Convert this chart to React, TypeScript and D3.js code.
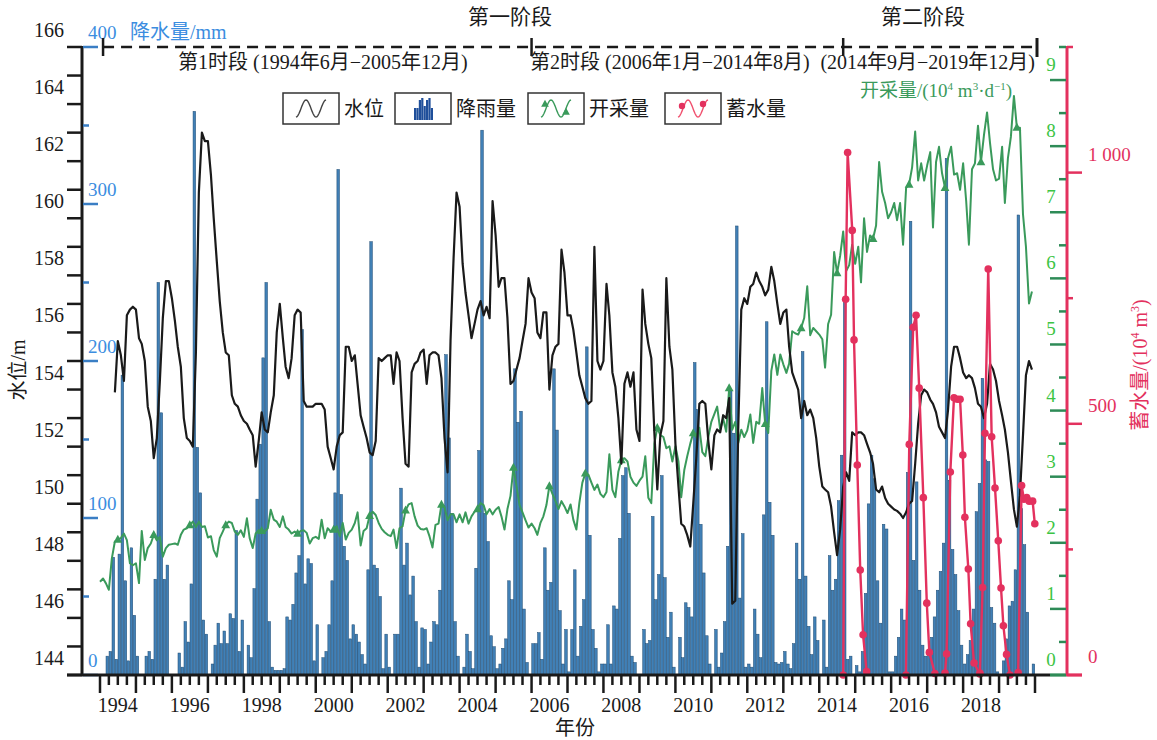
import React from 'react';
import * as d3 from 'd3';

const years = d3.range(1994, 2020);

// 降雨量 (mm), one row per year, Jan..Dec
const rain: number[][] = [
  [0, 0, 12, 15, 75, 10, 77, 191, 60, 9, 81, 38],
  [12, 0, 0, 12, 15, 10, 61, 250, 167, 61, 70, 0],
  [0, 0, 14, 5, 34, 21, 58, 359, 145, 116, 35, 26],
  [0, 7, 19, 33, 20, 28, 20, 39, 36, 92, 15, 35],
  [0, 19, 11, 55, 112, 147, 202, 250, 34, 5, 3, 3],
  [3, 4, 37, 35, 45, 65, 76, 220, 58, 74, 71, 9],
  [32, 0, 11, 15, 32, 60, 116, 322, 115, 82, 73, 23],
  [32, 26, 21, 13, 7, 67, 276, 70, 68, 50, 4, 26],
  [5, 0, 26, 26, 119, 70, 84, 51, 63, 34, 5, 30],
  [29, 7, 21, 34, 32, 54, 108, 204, 151, 103, 34, 12],
  [0, 5, 26, 15, 4, 68, 143, 347, 103, 85, 25, 18],
  [4, 7, 17, 23, 60, 48, 195, 161, 168, 42, 8, 0],
  [20, 20, 27, 10, 81, 54, 59, 195, 156, 41, 7, 29],
  [2, 29, 67, 12, 31, 48, 209, 89, 29, 17, 2, 7],
  [7, 32, 7, 44, 42, 87, 127, 132, 103, 12, 8, 0],
  [0, 29, 20, 22, 101, 48, 64, 127, 62, 24, 40, 5],
  [0, 24, 11, 46, 43, 37, 199, 169, 96, 65, 25, 7],
  [0, 29, 5, 14, 34, 82, 181, 154, 286, 49, 90, 5],
  [7, 5, 42, 26, 11, 102, 225, 110, 89, 8, 7, 8],
  [15, 7, 4, 20, 84, 61, 206, 63, 31, 13, 37, 22],
  [0, 35, 5, 76, 54, 61, 111, 140, 240, 10, 12, 0],
  [6, 2, 15, 52, 109, 140, 125, 60, 33, 96, 93, 2],
  [2, 12, 24, 42, 35, 129, 289, 73, 123, 54, 19, 12],
  [16, 24, 37, 54, 66, 84, 329, 124, 80, 64, 41, 19],
  [7, 13, 22, 42, 104, 122, 189, 137, 136, 43, 33, 2],
  [0, 9, 23, 44, 47, 67, 293, 106, 83, 40, 0, 7],
];

// 水位 (m)
const level: (number | null)[][] = [
  [null, null, null, null, null, 153.9, 155.7, 155.2, 154.3, 156.6, 156.8, 156.9],
  [156.8, 155.8, 155.6, 155.0, 153.4, 152.9, 151.6, 152.3, 154.3, 156.5, 157.8, 157.8],
  [157.2, 156.4, 155.5, 154.8, 153.0, 152.3, 152.2, 152.0, 155.3, 160.9, 163.0, 162.7],
  [162.7, 161.5, 160.0, 158.5, 157.1, 156.0, 155.3, 155.2, 153.8, 153.5, 153.4, 153.1],
  [152.9, 152.8, 152.6, 152.4, 151.3, 152.2, 153.2, 152.6, 152.5, 153.2, 153.8, 156.0],
  [157.0, 155.8, 154.8, 154.4, 155.1, 156.6, 156.8, 156.7, 153.6, 153.4, 153.4, 153.4],
  [153.5, 153.5, 153.5, 153.3, 152.0, 151.6, 151.2, 152.0, 152.4, 152.5, 155.5, 155.5],
  [155.0, 155.2, 154.2, 153.1, 152.7, 152.3, 151.8, 151.7, 152.2, 155.1, 155.0, 155.1],
  [155.2, 155.2, 154.2, 155.3, 155.0, 153.0, 151.4, 151.3, 154.6, 154.9, 155.0, 155.3],
  [155.4, 154.2, 155.2, 155.3, 155.3, 155.2, 154.4, 152.3, 151.1, 155.7, 158.6, 160.9],
  [160.4, 158.4, 157.4, 156.6, 155.8, 156.3, 156.8, 157.1, 156.6, 156.9, 156.5, 160.6],
  [159.4, 157.6, 157.9, 157.9, 156.5, 154.2, 154.3, 154.7, 155.1, 155.7, 156.3, 157.9],
  [157.4, 157.2, 156.0, 155.8, 156.7, 156.7, 154.0, 155.2, 155.5, 155.6, 158.9, 158.1],
  [156.6, 156.6, 156.1, 155.3, 154.5, 154.1, 153.7, 153.5, 153.6, 159.0, 155.0, 154.7],
  [155.0, 157.7, 156.6, 154.6, 154.1, 153.0, 151.4, 154.2, 154.6, 154.1, 154.6, 152.6],
  [152.2, 157.5, 156.3, 155.6, 155.1, 152.5, 150.5, 152.4, 152.9, 157.9, 155.5, 154.7],
  [152.1, 150.6, 149.3, 149.2, 148.9, 148.5, 150.0, 151.6, 153.5, 153.6, 153.5, 152.2],
  [151.2, 152.4, 152.6, 152.5, 153.1, 153.0, 153.7, 146.5, 146.6, 152.6, 156.8, 157.2],
  [157.0, 157.6, 157.7, 158.1, 157.8, 157.6, 157.3, 157.5, 158.3, 157.8, 157.0, 156.3],
  [156.7, 156.8, 155.5, 154.6, 154.3, 154.0, 153.0, 153.6, 153.1, 153.3, 153.0, 152.3],
  [151.3, 150.6, 150.5, 150.4, 149.9, 149.0, 148.2, 149.1, 150.6, 151.1, 150.8, 152.5],
  [152.4, 152.5, 152.5, 152.4, 152.1, 151.8, 151.4, 150.5, 150.4, 150.6, 150.2, 150.0],
  [149.9, 149.8, 149.75, 149.65, 149.5, 149.7, 150.0, 150.1, 151.4, 152.8, 153.8, 154.0],
  [153.9, 153.65, 153.5, 153.2, 152.7, 152.5, 152.3, 153.3, 154.8, 155.5, 155.5, 155.1],
  [154.6, 154.4, 154.5, 154.4, 154.05, 153.5, 153.4, 153.0, 153.5, 154.9, 154.7, 154.3],
  [153.6, 153.1, 152.6, 151.8, 150.8, 149.8, 149.2, 150.3, 152.4, 154.5, 155.0, 154.7],
];

// 开采量 (10^4 m3/d)
const pump: number[][] = [
  [1.41, 1.46, 1.39, 1.29, 1.76, 2.02, 2.05, 2.07, 2.14, 2.04, 1.69, 1.66],
  [1.69, 1.39, 2.18, 1.74, 1.92, 1.99, 2.12, 2.04, 2.09, 1.79, 1.92, 1.97],
  [1.98, 1.99, 1.97, 2.12, 2.2, 2.22, 2.27, 2.32, 2.24, 2.32, 2.24, 2.25],
  [2.08, 2.1, 1.89, 1.79, 2.07, 2.17, 2.27, 2.32, 2.3, 2.17, 2.12, 2.19],
  [2.09, 2.37, 2.07, 1.92, 2.14, 2.19, 2.18, 2.17, 2.22, 2.5, 2.35, 2.32],
  [2.24, 2.4, 2.24, 2.2, 2.14, 2.17, 2.14, 2.18, 2.19, 2.15, 1.99, 2.07],
  [2.09, 2.06, 2.35, 2.07, 2.22, 2.17, 2.2, 2.25, 2.1, 2.3, 2.05, 2.15],
  [2.2, 2.3, 2.46, 1.96, 2.18, 2.22, 2.41, 2.47, 2.42, 2.3, 2.21, 2.16],
  [2.12, 2.1, 2.2, 1.92, 2.22, 2.25, 2.49, 2.58, 2.6, 2.4, 2.26, 2.21],
  [2.2, 2.22, 2.1, 1.93, 2.27, 2.29, 2.58, 2.54, 2.34, 2.43, 2.43, 2.31],
  [2.43, 2.31, 2.46, 2.29, 2.4, 2.47, 2.51, 2.6, 2.57, 2.43, 2.51, 2.43],
  [2.5, 2.54, 2.4, 2.2, 2.51, 2.71, 3.14, 2.86, 2.57, 2.46, 2.34, 2.23],
  [2.29, 2.22, 2.12, 2.3, 2.4, 2.57, 2.86, 2.74, 2.63, 2.51, 2.63, 2.55],
  [2.45, 2.58, 2.35, 2.2, 2.6, 2.91, 3.05, 3.03, 2.91, 2.8, 2.88, 2.74],
  [2.69, 2.77, 3.34, 2.8, 2.69, 3.08, 3.25, 3.28, 3.23, 3.0, 2.91, 2.86],
  [2.94, 3.0, 3.31, 2.68, 2.6, 3.5, 3.74, 3.63, 3.6, 3.43, 3.46, 3.23],
  [3.46, 3.23, 2.69, 3.1, 3.31, 3.5, 3.66, 3.6, 3.74, 3.37, 3.31, 3.6],
  [3.83, 3.95, 4.06, 3.71, 3.88, 3.68, 4.34, 3.71, 3.83, 3.51, 3.71, 3.6],
  [3.7, 3.94, 3.51, 3.83, 3.8, 4.34, 3.8, 3.66, 4.6, 4.85, 4.54, 4.85],
  [4.7, 4.57, 4.71, 5.2, 5.17, 5.15, 5.25, 5.4, 5.88, 5.14, 5.25, 5.2],
  [5.15, 5.08, 4.65, 5.31, 5.45, 6.4, 6.08, 6.34, 6.71, 6.11, 6.2, 6.51],
  [6.22, 6.48, 5.94, 6.91, 6.4, 6.65, 6.6, 6.8, 7.76, 7.31, 7.14, 6.91],
  [7.0, 7.14, 6.88, 7.14, 6.51, 7.37, 7.42, 7.68, 8.22, 7.48, 7.74, 7.48],
  [7.71, 7.91, 6.77, 7.76, 7.99, 7.59, 7.37, 7.82, 7.99, 7.57, 7.59, 7.34],
  [7.74, 7.17, 6.51, 7.65, 7.74, 8.31, 7.76, 8.17, 8.51, 8.05, 7.65, 7.48],
  [7.51, 7.99, 7.14, 7.82, 8.14, 8.76, 8.28, 8.28, 6.97, 6.48, 5.62, 5.8],
];

// 蓄水量 (10^4 m3), one list per recharge season
const storeDates: string[][] = [
  ['2014-09-01', '2014-09-26', '2014-10-16', '2014-12-02', '2014-12-20', '2015-01-22', '2015-02-21', '2015-03-22', '2015-04-27'],
  ['2016-05-30', '2016-07-03', '2016-08-12', '2016-09-10', '2016-10-12', '2016-11-23', '2016-12-28', '2017-01-23', '2017-03-20'],
  ['2017-07-01', '2017-07-17', '2017-08-24', '2017-09-30', '2017-11-03', '2017-12-01', '2017-12-29', '2018-01-19', '2018-02-23', '2018-03-18', '2018-04-22', '2018-06-20'],
  ['2018-06-20', '2018-07-18', '2018-08-11', '2018-09-13', '2018-10-18', '2018-11-21', '2018-12-24', '2019-01-21', '2019-02-14', '2019-03-18', '2019-04-22'],
  ['2019-07-14', '2019-08-18', '2019-09-11', '2019-10-09', '2019-11-03', '2019-12-08', '2019-12-30'],
];
const storeValues: number[][] = [
  [0, 748, 1040, 885, 667, 418, 209, 80, 7],
  [0, 459, 692, 716, 571, 353, 143, 45, 3],
  [4, 42, 404, 552, 549, 549, 438, 314, 211, 102, 24, 2],
  [4, 174, 481, 808, 474, 372, 267, 173, 98, 41, 0],
  [5, 377, 350, 353, 346, 346, 301],
];

const levelTicks = d3.range(144, 167);
const rainTicks = d3.range(0, 401, 50);
const pumpTicks = d3.range(0, 9.51, 0.5);
const storeTicks = [0, 250, 500, 750, 1000, 1250];
const yearLabels = years.filter((y) => y % 2 === 0);

const BLACK = '#1a1a1a';
const BAR = '#4180b6';
const BAR_EDGE = '#1f4b72';
const BLUE_TXT = '#3b8de0';
const GREEN = '#3a9a5b';
const GREEN_TXT = '#3cc444';
const GREEN_TICK = '#2e8b57';
const PINK = '#e3315e';
const FONT = "'Liberation Serif', 'DejaVu Serif', 'Noto Sans CJK SC', serif";

const parse = d3.timeParse('%Y-%m-%d');

export default function App() {
  const x = d3.scaleTime().domain([new Date(1994, 0, 1), new Date(2020, 0, 1)]).range([100, 1035]);
  const yLevel = d3.scaleLinear().domain([144, 166]).range([675, 47]);
  const yRain = d3.scaleLinear().domain([0, 400]).range([675, 47]);
  const yPump = d3.scaleLinear().domain([0, 9.5]).range([675, 47]);
  const yStore = d3.scaleLinear().domain([0, 1250]).range([675, 47]);

  const monthly = <T,>(rows: T[][]) =>
    rows.flatMap((row, i) => row.map((v, m) => ({ date: new Date(years[i], m, 1), v, m })));

  const rainPts = monthly(rain);
  const levelPts = monthly(level);
  const pumpPts = monthly(pump);

  const levelLine = d3
    .line<{ date: Date; v: number | null }>()
    .defined((d) => d.v != null)
    .x((d) => x(d.date))
    .y((d) => yLevel(d.v as number));
  const pumpLine = d3
    .line<{ date: Date; v: number }>()
    .x((d) => x(d.date))
    .y((d) => yPump(d.v));
  const storeSeries = storeDates.map((ds, i) =>
    ds.map((s, j) => ({ date: parse(s) as Date, v: storeValues[i][j] }))
  );
  const storeLine = d3
    .line<{ date: Date; v: number }>()
    .x((d) => x(d.date))
    .y((d) => yStore(d.v));

  const quarterTicks = d3.timeMonth.every(3)!.range(new Date(1994, 0, 1), new Date(2020, 0, 2));

  // legend icon wave
  const wave = (x0: number, x1: number, yc: number, amp: number) =>
    d3.line()(d3.range(0, 31).map((i) => [x0 + ((x1 - x0) * i) / 30, yc + amp * Math.cos((3 * Math.PI * i) / 30)]));

  const tri = (cx: number, cy: number, s: number) =>
    `M${cx},${cy - s * 0.6}L${cx + s * 0.55},${cy + s * 0.4}L${cx - s * 0.55},${cy + s * 0.4}Z`;

  const legendBoxes = [
    { x: 283, label: '水位' },
    { x: 395, label: '降雨量' },
    { x: 528, label: '开采量' },
    { x: 665, label: '蓄水量' },
  ];

  return (
    <svg
      width={1157}
      height={740}
      style={{ position: 'absolute', left: 0, top: 0, background: '#fff' }}
      fontFamily={FONT}
    >
      {/* precipitation bars */}
      <g>
        {rainPts.map((d, i) =>
          d.v > 0 ? (
            <rect
              key={i}
              x={x(d.date) + 0.2}
              y={yRain(d.v)}
              width={2.6}
              height={675 - yRain(d.v)}
              fill={BAR}
              stroke={BAR_EDGE}
              strokeWidth={0.5}
            />
          ) : null
        )}
      </g>

      {/* extraction */}
      <path d={pumpLine(pumpPts) || ''} fill="none" stroke={GREEN} strokeWidth={2} strokeLinejoin="round" />
      {pumpPts
        .filter((d) => d.m === 6)
        .map((d, i) => (
          <path key={i} d={tri(x(d.date), yPump(d.v), 8)} fill={GREEN} />
        ))}

      {/* water level */}
      <path d={levelLine(levelPts) || ''} fill="none" stroke={BLACK} strokeWidth={2.2} strokeLinejoin="round" />

      {/* storage */}
      {storeSeries.map((s, i) => (
        <g key={i}>
          <path d={storeLine(s) || ''} fill="none" stroke={PINK} strokeWidth={2.4} />
          {s.map((d, j) => (
            <circle key={j} cx={x(d.date)} cy={yStore(d.v)} r={3.8} fill={PINK} />
          ))}
        </g>
      ))}

      {/* left water-level axis */}
      <line x1={82} x2={82} y1={46} y2={676} stroke={BLACK} strokeWidth={3} />
      {levelTicks.map((v) => (
        <g key={v}>
          <line x1={67} x2={82} y1={yLevel(v)} y2={yLevel(v)} stroke={BLACK} strokeWidth={2.5} />
          {v % 2 === 0 && (
            <text x={64} y={yLevel(v) - 10} textAnchor="end" fontSize={20} fill={BLACK}>
              {v}
            </text>
          )}
        </g>
      ))}
      {/* precipitation axis ticks */}
      {rainTicks.map((v) => (
        <g key={v}>
          <line
            x1={83}
            x2={v % 100 === 0 ? 98 : 89}
            y1={yRain(v)}
            y2={yRain(v)}
            stroke="#3a7ec4"
            strokeWidth={2.5}
          />
          {v % 100 === 0 && (
            <text x={88} y={yRain(v) - 8} fontSize={19} fill={BLUE_TXT}>
              {v}
            </text>
          )}
        </g>
      ))}
      <text x={130} y={39} fontSize={20} fill={BLUE_TXT}>
        降水量/mm
      </text>
      <text transform="translate(25,370) rotate(-90)" textAnchor="middle" fontSize={20} fill={BLACK}>
        水位/m
      </text>

      {/* bottom axis */}
      <line x1={67} x2={1050} y1={675} y2={675} stroke={BLACK} strokeWidth={3} />
      <line x1={1050} x2={1067} y1={675} y2={675} stroke={GREEN_TICK} strokeWidth={3} />
      <line x1={1067} x2={1082} y1={675} y2={675} stroke={PINK} strokeWidth={3} />
      {quarterTicks.map((t, i) => (
        <line
          key={i}
          x1={x(t)}
          x2={x(t)}
          y1={675}
          y2={t.getMonth() === 0 ? 693 : 685}
          stroke={BLACK}
          strokeWidth={2.5}
        />
      ))}
      {yearLabels.map((y) => (
        <text key={y} x={x(new Date(y, 6, 1))} y={712} textAnchor="middle" fontSize={20} fill={BLACK}>
          {y}
        </text>
      ))}
      <text x={575} y={735} textAnchor="middle" fontSize={20} fill={BLACK}>
        年份
      </text>

      {/* right axes */}
      <line x1={1067} x2={1067} y1={46} y2={676} stroke={PINK} strokeWidth={3} />
      {pumpTicks.map((v) => (
        <g key={v}>
          <line
            x1={Number.isInteger(v) ? 1050 : 1059}
            x2={1066}
            y1={yPump(v)}
            y2={yPump(v)}
            stroke={GREEN_TICK}
            strokeWidth={2.5}
          />
          {Number.isInteger(v) && (
            <text x={1051} y={yPump(v) - 9} textAnchor="middle" fontSize={19} fill={GREEN_TXT}>
              {v}
            </text>
          )}
        </g>
      ))}
      {storeTicks.map((v) => (
        <g key={v}>
          <line
            x1={1067}
            x2={v % 500 === 0 ? 1082 : 1073}
            y1={yStore(v)}
            y2={yStore(v)}
            stroke={PINK}
            strokeWidth={2.5}
          />
          {v % 500 === 0 && (
            <text x={1088} y={yStore(v) - 12} fontSize={19} fill={PINK}>
              {v === 1000 ? '1 000' : v}
            </text>
          )}
        </g>
      ))}
      <text x={860} y={97} fontSize={19} fill={GREEN}>
        开采量/(10<tspan dy={-7} fontSize={11}>4</tspan>
        <tspan dy={7}> m</tspan>
        <tspan dy={-7} fontSize={11}>3</tspan>
        <tspan dy={7}>·d</tspan>
        <tspan dy={-7} fontSize={11}>−1</tspan>
        <tspan dy={7}>)</tspan>
      </text>
      <text transform="translate(1147,365) rotate(-90)" textAnchor="middle" fontSize={20} fill={PINK}>
        蓄水量/(10<tspan dy={-8} fontSize={12}>4</tspan>
        <tspan dy={8}> m</tspan>
        <tspan dy={-8} fontSize={12}>3</tspan>
        <tspan dy={8}>)</tspan>
      </text>

      {/* stage annotation */}
      <line x1={x(new Date(1994, 1, 1))} x2={1037} y1={47} y2={47} stroke={BLACK} strokeWidth={2.5} strokeDasharray="11 7" />
      {[new Date(1994, 1, 1), new Date(2006, 0, 1), new Date(2014, 8, 1)].map((d, i) => (
        <line key={i} x1={x(d)} x2={x(d)} y1={38} y2={56} stroke={BLACK} strokeWidth={2.5} />
      ))}
      <line x1={1037} x2={1037} y1={38} y2={57} stroke={BLACK} strokeWidth={3} />
      <text x={510} y={24} textAnchor="middle" fontSize={21} fill={BLACK}>
        第一阶段
      </text>
      <text x={923} y={24} textAnchor="middle" fontSize={21} fill={BLACK}>
        第二阶段
      </text>
      <text x={178} y={69} fontSize={20} fill={BLACK}>
        第1时段 (1994年6月−2005年12月)
      </text>
      <text x={530} y={69} fontSize={20} fill={BLACK}>
        第2时段 (2006年1月−2014年8月)
      </text>
      <text x={1035} y={69} textAnchor="end" fontSize={20} fill={BLACK}>
        (2014年9月−2019年12月)
      </text>

      {/* legend */}
      {legendBoxes.map((b) => (
        <g key={b.label}>
          <rect x={b.x} y={93} width={56} height={31} fill="#fff" stroke="#333" strokeWidth={1.5} />
          <text x={b.x + 61} y={116} fontSize={20} fill={BLACK}>
            {b.label}
          </text>
        </g>
      ))}
      <path d={wave(296, 326, 108.5, 8.5) || ''} fill="none" stroke="#444" strokeWidth={1.4} />
      {[12, 12, 20, 22, 14, 20, 22, 12].map((h, i) => (
        <rect key={i} x={414 + i * 2.4} y={120 - h} width={2.2} height={h} fill="#1f4f9a" />
      ))}
      <path d={wave(541, 571, 108.5, 8.5) || ''} fill="none" stroke={GREEN} strokeWidth={1.4} />
      <path d={tri(545, 104, 7)} fill={GREEN} />
      <path d={tri(566, 112, 7)} fill={GREEN} />
      <path d={wave(678, 708, 108.5, 8.5) || ''} fill="none" stroke="#f0506e" strokeWidth={1.4} />
      <circle cx={682} cy={106} r={3.2} fill={PINK} />
      <circle cx={703} cy={104} r={3.2} fill={PINK} />
    </svg>
  );
}
